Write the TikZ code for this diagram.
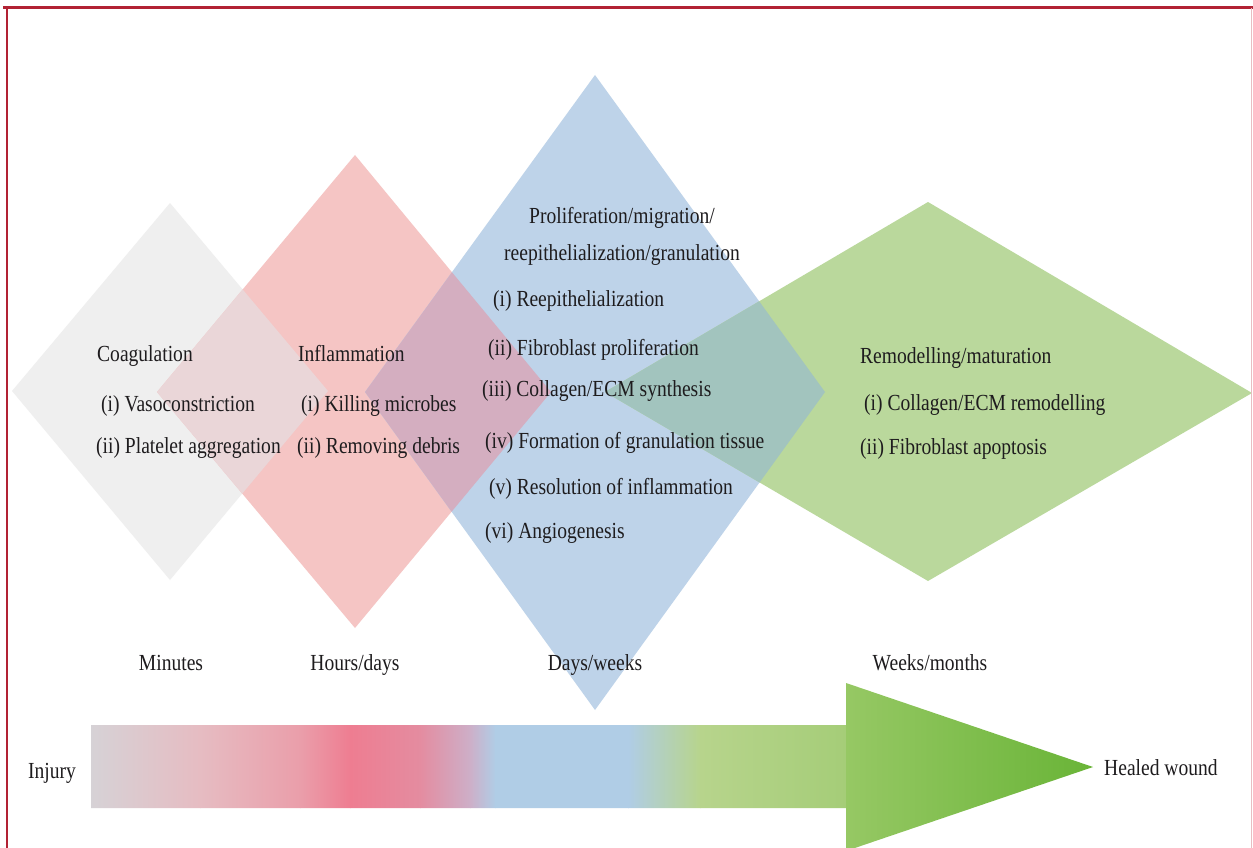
\documentclass[tikz,border=0pt]{standalone}
\usepackage{fontspec}
\setmainfont{Liberation Serif}[FakeStretch=0.85]
\definecolor{grayd}{RGB}{239,239,239}
\definecolor{pinkd}{RGB}{245,197,196}
\definecolor{graypink}{RGB}{234,214,216}
\definecolor{blued}{RGB}{190,211,233}
\definecolor{pinkblue}{RGB}{212,174,192}
\definecolor{greend}{RGB}{186,216,156}
\definecolor{bluegreen}{RGB}{162,196,190}
\definecolor{txt}{RGB}{30,28,30}
\definecolor{frame}{RGB}{178,34,52}
\definecolor{sA}{RGB}{214,210,214}
\definecolor{sB}{RGB}{230,188,194}
\definecolor{sC}{RGB}{234,158,170}
\definecolor{sD}{RGB}{238,125,145}
\definecolor{sE}{RGB}{228,140,160}
\definecolor{sF}{RGB}{205,175,200}
\definecolor{sG}{RGB}{176,205,230}
\definecolor{sH}{RGB}{183,212,140}
\definecolor{sI}{RGB}{165,205,120}
\definecolor{sJ}{RGB}{150,200,100}
\definecolor{sK}{RGB}{105,180,55}
\tikzset{
  lbl/.style={anchor=base west, inner sep=0pt, text=txt, font=\fontsize{23}{27}\selectfont},
  clbl/.style={anchor=base, inner sep=0pt, text=txt, font=\fontsize{23}{27}\selectfont},
}
\begin{document}
\begin{tikzpicture}[x=1pt,y=-1pt]
\useasboundingbox (0,0) rectangle (1253,848);
\fill[white] (0,0) rectangle (1253,848);
% diamond corners
\coordinate (gT) at (170,203); \coordinate (gR) at (328,391); \coordinate (gB) at (170,580); \coordinate (gL) at (12,391);
\coordinate (pT) at (355,155); \coordinate (pR) at (551,392); \coordinate (pB) at (355,628); \coordinate (pL) at (157,392);
\coordinate (bT) at (595,75); \coordinate (bR) at (825,392); \coordinate (bB) at (595,710); \coordinate (bL) at (365,392);
\coordinate (nT) at (928,202); \coordinate (nR) at (1252,393); \coordinate (nB) at (928,581); \coordinate (nL) at (605,392);
\def\gpath{(gT) -- (gR) -- (gB) -- (gL) -- cycle}
\def\ppath{(pT) -- (pR) -- (pB) -- (pL) -- cycle}
\def\bpath{(bT) -- (bR) -- (bB) -- (bL) -- cycle}
\def\npath{(nT) -- (nR) -- (nB) -- (nL) -- cycle}
\fill[grayd] \gpath;
\fill[pinkd] \ppath;
\begin{scope}\clip \gpath; \fill[graypink] \ppath; \end{scope}
\fill[blued] \bpath;
\begin{scope}\clip \ppath; \fill[pinkblue] \bpath; \end{scope}
\fill[greend] \npath;
\begin{scope}\clip \bpath; \fill[bluegreen] \npath; \end{scope}
% gradient arrow
\begin{scope}
\clip (91,725) -- (846,725) -- (846,683) -- (1093,767) -- (846,851) -- (846,808) -- (91,808) -- cycle;
\shade[left color=sA, right color=sB] (90,680) rectangle (200.5,852);
\shade[left color=sB, right color=sC] (200,680) rectangle (300.5,852);
\shade[left color=sC, right color=sD] (300,680) rectangle (350.5,852);
\shade[left color=sD, right color=sE] (350,680) rectangle (420.5,852);
\shade[left color=sE, right color=sF] (420,680) rectangle (470.5,852);
\shade[left color=sF, right color=sG] (470,680) rectangle (495.5,852);
\fill[sG] (495,680) rectangle (628.5,852);
\shade[left color=sG, right color=sH] (628,680) rectangle (700.5,852);
\shade[left color=sH, right color=sI] (700,680) rectangle (846.5,852);
\shade[left color=sJ, right color=sK] (846,680) rectangle (1094,852);
\end{scope}
% frame
\draw[frame, line width=3] (3,8) -- (1253,8);
\draw[frame, line width=1.2] (7,8) -- (7,848);
\draw[frame!30, line width=1] (1251.5,8) -- (1251.5,848);
% texts
\node[lbl] (coag) at (97,361) {Coagulation};
\node[lbl] (coag1) at (101,411) {(i) Vasoconstriction};
\node[lbl] (coag2) at (96,453) {(ii) Platelet aggregation};
\node[lbl] (infl) at (298,361) {Inflammation};
\node[lbl] (infl1) at (301,411) {(i) Killing microbes};
\node[lbl] (infl2) at (297,453) {(ii) Removing debris};
\node[clbl] (prol1) at (622,223) {Proliferation/migration/};
\node[clbl] (prol2) at (622,260) {reepithelialization/granulation};
\node[lbl] (p1) at (493,306) {(i) Reepithelialization};
\node[lbl] (p2) at (488,355) {(ii) Fibroblast proliferation};
\node[lbl] (p3) at (482,396) {(iii) Collagen/ECM synthesis};
\node[lbl] (p4) at (485,448) {(iv) Formation of granulation tissue};
\node[lbl] (p5) at (489,494) {(v) Resolution of inflammation};
\node[lbl] (p6) at (485,538) {(vi) Angiogenesis};
\node[lbl] (rem) at (860,363) {Remodelling/maturation};
\node[lbl] (rem1) at (864,410) {(i) Collagen/ECM remodelling};
\node[lbl] (rem2) at (860,454) {(ii) Fibroblast apoptosis};
\node[clbl] (tmin) at (171,670) {Minutes};
\node[clbl] (thrs) at (355,670) {Hours/days};
\node[clbl] (tdays) at (595,670) {Days/weeks};
\node[clbl] (twks) at (930,670) {Weeks/months};
\node[lbl] (inj) at (28,778) {Injury};
\node[lbl] (heal) at (1104,775) {Healed wound};
\end{tikzpicture}
\end{document}
